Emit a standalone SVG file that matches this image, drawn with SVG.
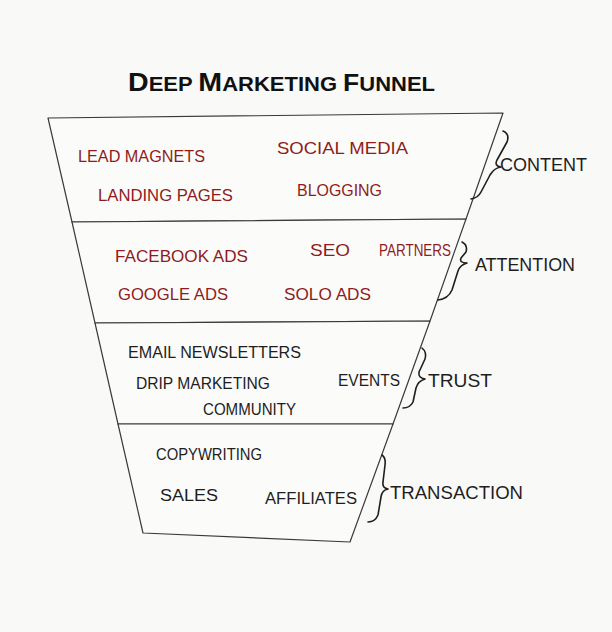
<svg xmlns="http://www.w3.org/2000/svg" width="612" height="632" viewBox="0 0 612 632">
<style>
.bg{fill:#f9f9f8}
.band{fill:#fbfbfa;stroke:#3a3a3a;stroke-width:1.2;stroke-linejoin:round}
.red{fill:#8e1c1c;font-family:"Liberation Sans",Arial,sans-serif;font-size:17px}
.blk{fill:#1e1e1e;font-family:"Liberation Sans",Arial,sans-serif;font-size:16px}
.lbl{fill:#1e1e1e;font-family:"Liberation Sans",Arial,sans-serif;font-size:18px}
.title{fill:#111;font-family:"Liberation Sans",Arial,sans-serif;font-weight:bold}
.brace{fill:none;stroke:#1e1e1e;stroke-width:1.6;stroke-linecap:round;stroke-linejoin:round}
</style>
<rect class="bg" x="0" y="0" width="612" height="632"/>
<g id="title">
<text class="title" x="128" y="91" textLength="307" lengthAdjust="spacingAndGlyphs"><tspan font-size="26">D</tspan><tspan font-size="20">EEP </tspan><tspan font-size="26">M</tspan><tspan font-size="20">ARKETING </tspan><tspan font-size="24">F</tspan><tspan font-size="20">UNNEL</tspan></text>
</g>
<g id="stage-content">
<polygon class="band" points="48,118 503,113 466,219 72,222"/>
<text class="red" x="78" y="162" textLength="127" lengthAdjust="spacingAndGlyphs">LEAD MAGNETS</text>
<text class="red" x="277" y="154" textLength="131" lengthAdjust="spacingAndGlyphs">SOCIAL MEDIA</text>
<text class="red" x="98" y="201" textLength="135" lengthAdjust="spacingAndGlyphs">LANDING PAGES</text>
<text class="red" x="297" y="196" textLength="85" lengthAdjust="spacingAndGlyphs">BLOGGING</text>
</g>
<g id="stage-attention">
<polygon class="band" points="72,222 466,219 430,321 95,323"/>
<text class="red" x="115" y="262" textLength="133" lengthAdjust="spacingAndGlyphs">FACEBOOK ADS</text>
<text class="red" x="310" y="256" textLength="40" lengthAdjust="spacingAndGlyphs">SEO</text>
<text class="red" x="379" y="256" textLength="72" lengthAdjust="spacingAndGlyphs">PARTNERS</text>
<text class="red" x="118" y="300" textLength="110" lengthAdjust="spacingAndGlyphs">GOOGLE ADS</text>
<text class="red" x="284" y="300" textLength="87" lengthAdjust="spacingAndGlyphs">SOLO ADS</text>
</g>
<g id="stage-trust">
<polygon class="band" points="95,323 430,321 393,424 118,424"/>
<text class="blk" x="128" y="358" textLength="173" lengthAdjust="spacingAndGlyphs">EMAIL NEWSLETTERS</text>
<text class="blk" x="136" y="389" textLength="134" lengthAdjust="spacingAndGlyphs">DRIP MARKETING</text>
<text class="blk" x="203" y="415" textLength="93" lengthAdjust="spacingAndGlyphs">COMMUNITY</text>
<text class="blk" x="338" y="386" textLength="62" lengthAdjust="spacingAndGlyphs">EVENTS</text>
</g>
<g id="stage-transaction">
<polygon class="band" points="118,424 393,424 350,542 143,533"/>
<text class="blk" x="156" y="460" textLength="106" lengthAdjust="spacingAndGlyphs">COPYWRITING</text>
<text class="blk" x="160" y="501" textLength="58" lengthAdjust="spacingAndGlyphs">SALES</text>
<text class="blk" x="265" y="504" textLength="92" lengthAdjust="spacingAndGlyphs">AFFILIATES</text>
</g>
<g id="connectors">
<path class="brace" d="M503,131 Q510,134 507,142 L497,160 Q494,166 501,167 Q494,168 490,175 L481,192 Q478,198 471,199"/>
<path class="brace" d="M462,242 Q468,245 466,252 L461,258 Q459,263 467,263 Q460,265 458,271 L452,290 Q448,299 438,300"/>
<path class="brace" d="M422,348 Q427,352 425,359 L419,372 Q418,378 425,379 Q418,381 416,388 L413,402 Q410,408 403,408"/>
<path class="brace" d="M382,455 Q386,458 385,465 L383,482 Q382,488 388,489 Q382,490 381,497 L378,515 Q375,522 368,522"/>
</g>
<g id="label-content"><text class="lbl" x="500" y="171" textLength="87" lengthAdjust="spacingAndGlyphs">CONTENT</text></g>
<g id="label-attention"><text class="lbl" x="475" y="271" textLength="100" lengthAdjust="spacingAndGlyphs">ATTENTION</text></g>
<g id="label-trust"><text class="lbl" x="428" y="387" textLength="64" lengthAdjust="spacingAndGlyphs">TRUST</text></g>
<g id="label-transaction"><text class="lbl" x="390" y="499" textLength="133" lengthAdjust="spacingAndGlyphs">TRANSACTION</text></g>
</svg>
